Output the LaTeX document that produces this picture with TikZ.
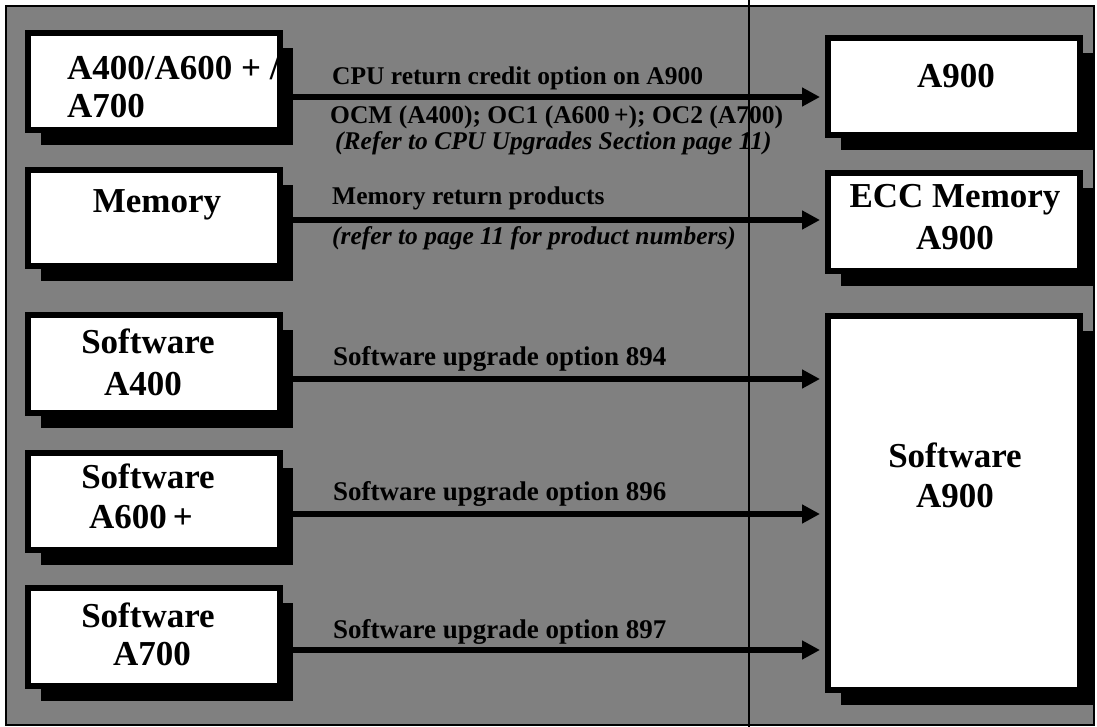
\documentclass[tikz,border=0pt]{standalone}
\usepackage{fontspec}
\setmainfont{Liberation Serif}
\usetikzlibrary{arrows.meta,shadows}
\begin{document}
\begin{tikzpicture}[x=1pt,y=-1pt,
  box/.style={draw=black, line width=6pt, fill=white, minimum width=252pt, inner sep=0pt,
    drop shadow={shadow xshift=13pt, shadow yshift=-15pt, fill=black, opacity=1}},
  boxtext/.style={font=\fontsize{35}{40}\selectfont\bfseries, inner sep=0pt, anchor=base},
  lbl/.style={font=\fontsize{25.5}{30}\selectfont\bfseries, inner sep=0pt, anchor=base west},
  swlbl/.style={font=\fontsize{27}{30}\selectfont\bfseries, inner sep=0pt, anchor=base west},
  ilbl/.style={font=\fontsize{25.5}{30}\selectfont\bfseries\itshape, inner sep=0pt, anchor=base west},
  arr/.style={line width=6.5pt, -{Triangle[length=18pt,width=18pt]}, shorten >=5pt}
]
\useasboundingbox (0,0) rectangle (1097,727);
% background frame
\node[draw=black, line width=2pt, fill=black!50, minimum width=1088pt, minimum height=719pt, inner sep=0pt] (frame) at (550,365.5) {};
\coordinate (vtop) at (749,0);
\coordinate (vbot) at (749,727);
\draw[line width=1.2pt] (vtop) -- (vbot);

% left boxes
\node[box, minimum height=97pt] (b1) at (154,81.5) {};
\node[box, minimum height=96pt] (b2) at (154,218) {};
\node[box, minimum height=98pt] (b3) at (154,364) {};
\node[box, minimum height=97pt] (b4) at (154,501.5) {};
\node[box, minimum height=98pt] (b5) at (154,637) {};
% right boxes
\node[box, minimum height=97pt] (r1) at (954,86.5) {};
\node[box, minimum height=98pt] (r2) at (954,222) {};
\node[box, minimum height=374pt] (r3) at (954,503) {};

% box texts
\begin{scope}
\clip (b1.north west) rectangle ([xshift=-6pt]b1.south east);
\node[boxtext, anchor=base west] (t1a) at (67,80) {A400/A600 + /};
\end{scope}
\node[boxtext, anchor=base west] (t1b) at (67,118) {A700};
\node[boxtext] (t2) at (157,213) {Memory};
\node[boxtext] (t3a) at (148,353) {Software};
\node[boxtext] (t3b) at (143,395) {A400};
\node[boxtext] (t4a) at (148,488) {Software};
\node[boxtext] (t4b) at (141,528) {A600\,+};
\node[boxtext] (t5a) at (148,627) {Software};
\node[boxtext] (t5b) at (152,665) {A700};
\node[boxtext] (u1) at (956,88) {A900};
\node[boxtext] (u2a) at (955,208) {ECC Memory};
\node[boxtext] (u2b) at (955,250) {A900};
\node[boxtext] (u3a) at (955,467) {Software};
\node[boxtext] (u3b) at (955,507) {A900};

% arrows
\coordinate (y1) at (0,97);
\coordinate (y2) at (0,220);
\coordinate (y3) at (0,379);
\coordinate (y4) at (0,514);
\coordinate (y5) at (0,650);
\draw[arr] (b1.east |- y1) -- (r1.west |- y1);
\draw[arr] (b2.east |- y2) -- (r2.west |- y2);
\draw[arr] (b3.east |- y3) -- (r3.west |- y3);
\draw[arr] (b4.east |- y4) -- (r3.west |- y4);
\draw[arr] (b5.east |- y5) -- (r3.west |- y5);

% arrow labels
\node[lbl] (l1) at (332,85) {CPU return credit option on A900};
\node[lbl] (l1b) at (330,124) {OCM (A400); OC1 (A600\,+); OC2 (A700)};
\node[ilbl] (l1c) at (335,150) {(Refer to CPU Upgrades Section page 11)};
\node[lbl] (l2) at (332,205) {Memory return products};
\node[ilbl] (l2b) at (332,245) {(refer to page 11 for product numbers)};
\node[swlbl] (l3) at (333,365) {Software upgrade option 894};
\node[swlbl] (l4) at (333,500) {Software upgrade option 896};
\node[swlbl] (l5) at (333,638) {Software upgrade option 897};
\end{tikzpicture}
\end{document}
